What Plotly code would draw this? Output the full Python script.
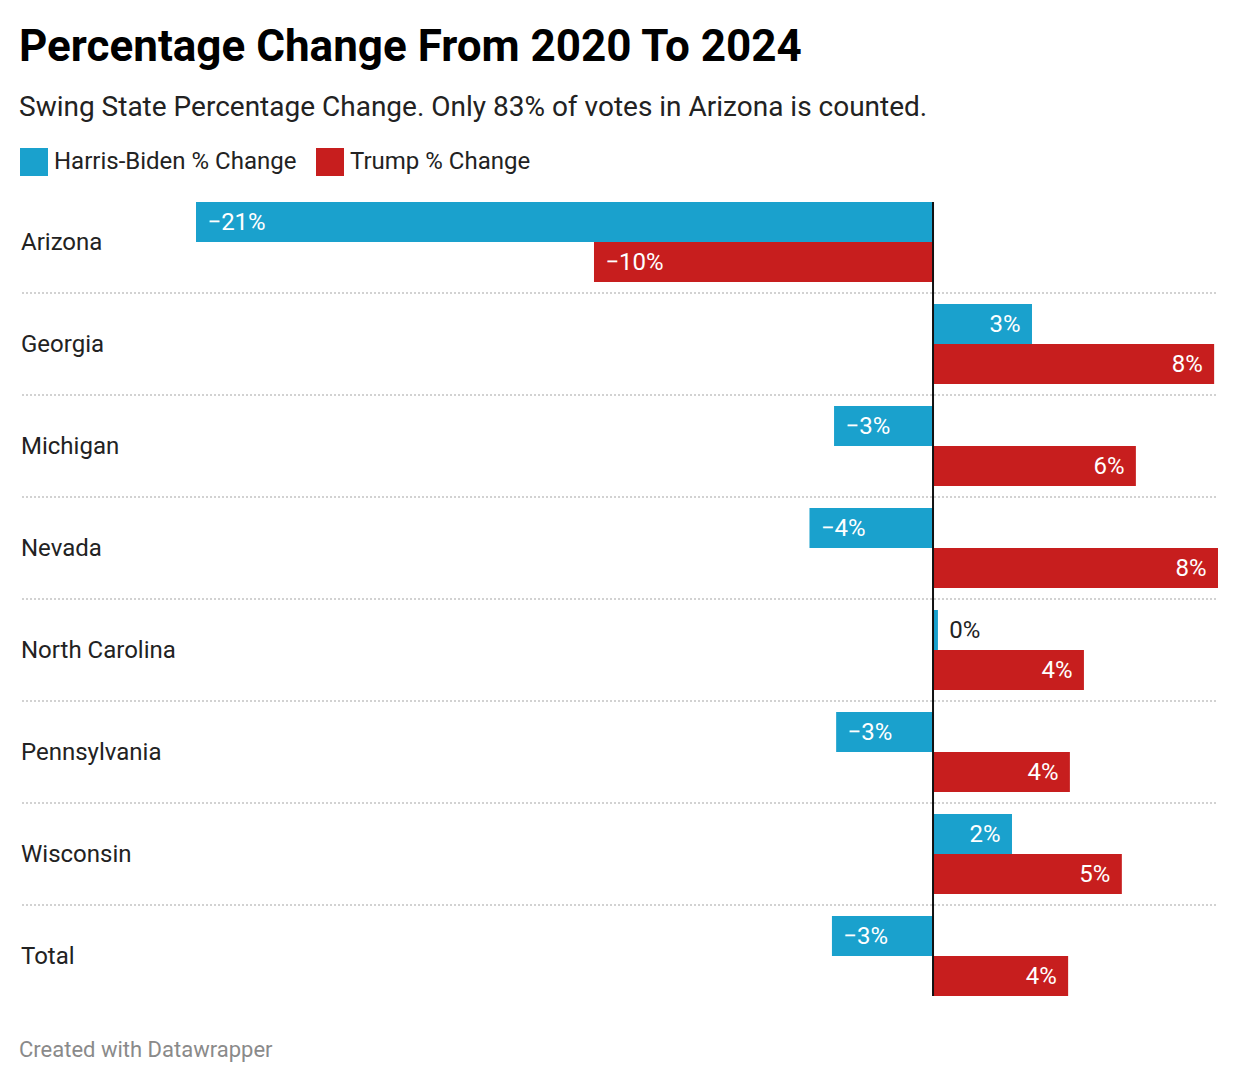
import plotly.graph_objects as go

# ---- data ----
states = ["Arizona", "Georgia", "Michigan", "Nevada", "North Carolina",
          "Pennsylvania", "Wisconsin", "Total"]
harris_change = [-21.0, 2.82, -2.82, -3.52, 0.14, -2.76, 2.25, -2.88]
trump_change = [-9.66, 8.01, 5.78, 8.12, 4.30, 3.90, 5.38, 3.85]
series_names = ["Harris-Biden % Change", "Trump % Change"]

BLUE = "#1aa1cd"
RED = "#c71e1e"
FONT = "Roboto"

W, H = 1240, 1084
OFF = 8                      # page body margin
L, R = 22 - OFF, 1218 - OFF  # plot area left/right (figure px)
T, B = 191 - OFF, 1007 - OFF  # plot area top/bottom (figure px)
AP = 3                       # annotation inner padding


def px_x(p):
    """screen px -> paper x"""
    return (p - OFF - L) / (R - L)


def px_y(p):
    """screen px -> paper y"""
    return (B - (p - OFF)) / (B - T)


def fmt(v):
    s = f"{round(v)}%"
    return s.replace("-", "\u2212")


PAD = "\u00a0\u200a"


def labels(vals):
    out, pos = [], []
    for v in vals:
        if abs(v) < 1.0:
            out.append(PAD + fmt(v))
            pos.append("outside")
        elif v < 0:
            out.append(PAD + fmt(v))
            pos.append("inside")
        else:
            out.append(fmt(v) + PAD)
            pos.append("inside")
    return out, pos


fig = go.Figure()
for name, vals, col in [(series_names[0], harris_change, BLUE),
                        (series_names[1], trump_change, RED)]:
    txt, pos = labels(vals)
    fig.add_trace(go.Bar(
        y=states, x=vals, name=name, orientation="h",
        marker=dict(color=col, line=dict(width=0)),
        text=txt, textposition=pos, texttemplate="%{text}",
        insidetextanchor="end",
        insidetextfont=dict(family=FONT, size=24, color="white"),
        outsidetextfont=dict(family=FONT, size=24, color="#222222"),
        constraintext="none", cliponaxis=False,
        showlegend=False, hoverinfo="skip",
    ))

# x range so that -21 sits at 196px and 8.12 at 1218px (screen)
scale = (1218 - 196) / (8.12 + 21.0)
xmin = -21.0 - (196 - 22) / scale
xmax = 8.12

shapes = []
for i in range(len(states) - 1):
    shapes.append(dict(type="line", xref="paper", yref="y",
                       x0=0, x1=1, y0=i + 0.5, y1=i + 0.5,
                       line=dict(color="#d2d2d2", width=2, dash="2px,2px")))
shapes.append(dict(type="line", xref="x", yref="y", x0=0, x1=0,
                   y0=-0.392, y1=len(states) - 1 + 0.392,
                   line=dict(color="#111111", width=2)))
for x0, col in ((20, BLUE), (316, RED)):
    shapes.append(dict(type="rect", xref="paper", yref="paper",
                       x0=px_x(x0), x1=px_x(x0 + 28),
                       y0=px_y(176), y1=px_y(148), line=dict(width=0),
                       fillcolor=col))


def ann(text, sx, sy, size, color):
    return dict(text=text, xref="paper", yref="paper", x=px_x(sx - AP), y=px_y(sy),
                xanchor="left", yanchor="middle", showarrow=False,
                font=dict(family=FONT, size=size, color=color))


annotations = [
    ann("<b>Percentage Change From 2020 To 2024</b>", 20, 46, 44, "#000000"),
    ann("Swing State Percentage Change. Only 83% of votes in Arizona is counted.",
        20, 107, 28, "#222222"),
    ann(series_names[0], 55, 161, 24, "#222222"),
    ann(series_names[1], 351, 161, 24, "#222222"),
    ann("Created with Datawrapper", 20, 1049, 22, "#8a8a8a"),
]
for s in states:
    annotations.append(dict(text=s, xref="paper", yref="y", x=px_x(22 - AP), y=s,
                            xanchor="left", yanchor="middle", showarrow=False,
                            font=dict(family=FONT, size=24, color="#222222")))

fig.update_layout(
    width=W, height=H,
    margin=dict(l=L, r=W - R, t=T, b=H - B, pad=0),
    paper_bgcolor="white", plot_bgcolor="white",
    barmode="group", bargap=0.216, bargroupgap=0,
    xaxis=dict(range=[xmin, xmax], visible=False, showgrid=False, zeroline=False),
    yaxis=dict(autorange=False, visible=False, showgrid=False, zeroline=False,
               range=[len(states) - 0.5, -0.5]),
    shapes=shapes, annotations=annotations,
    font=dict(family=FONT),
)

fig.write_html("out.html")
